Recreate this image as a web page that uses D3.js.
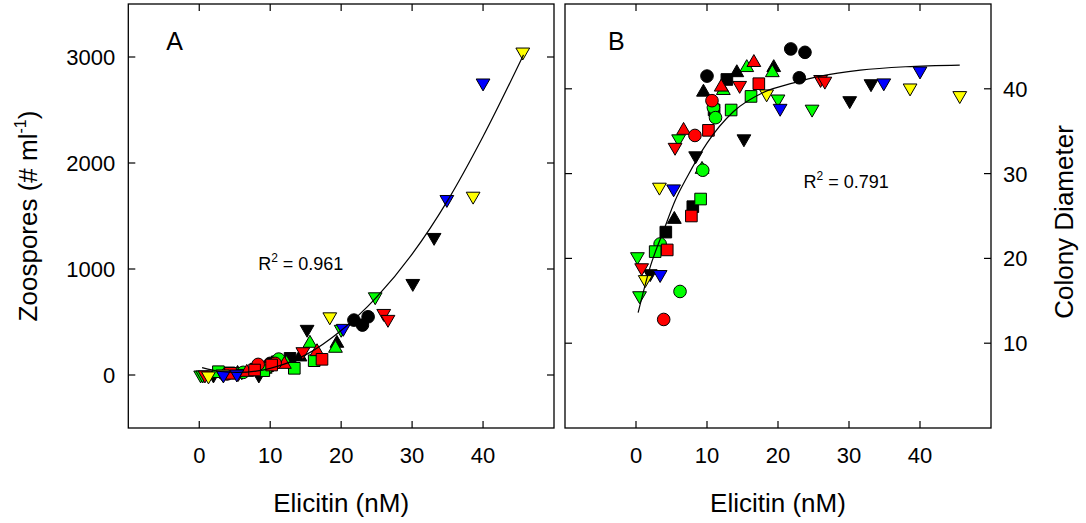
<!DOCTYPE html>
<html>
<head>
<meta charset="utf-8">
<script src="https://cdn.jsdelivr.net/npm/d3@7"></script>
<style>
body { margin: 0; background: #fff; }
text { font-family: "Liberation Sans", Arial, sans-serif; fill: #000; }
</style>
</head>
<body>
<div id="root"></div>
<script>
const w = 1086, h = 523

// data: one entry per culture, shared by both panels
const elicitin = [
  33.1, 30.1, 15.2, 8.4, 2.0,
  19.4, 14.2, 9.5, 5.4,
  21.8, 23.0, 23.8, 10.0,
  12.8, 11.0, 8.0, 4.2,
  24.8, 20.0, 6.0, 0.2, 0.5,
  15.6, 19.2, 12.3, 9.3,
  10.9, 11.2, 9.4, 3.4, 6.2,
  16.2, 13.4, 9.1, 2.7,
  26.0, 26.6, 14.6, 5.5, 0.8,
  16.6, 6.7, 12.0,
  10.7, 8.3, 3.9,
  17.3, 10.2, 7.8, 4.4,
  45.6, 38.6, 18.4, 3.3, 1.3,
  40.0, 34.9, 20.3, 5.3, 3.4
]
const zoospores = [
  1298, 864, 431, 0, 0,
  299, 170, 70, 15,
  518, 471, 549, 110,
  157, 125, 55, 20,
  738, 431, 30, 0, 0,
  299, 252, 110, 55,
  120, 150, 60, 15, 25,
  135, 63, 41, 31,
  581, 525, 220, 15, 0,
  220, 25, 100,
  110, 100, 10,
  148, 94, 47, 16,
  3047, 1687, 549, 10, -9,
  2755, 1656, 440, 9, 0
]
const diameter = [
  40.6, 38.6, 34.1, 32.1, 18.2,
  42.5, 41.9, 39.6, 24.6,
  44.7, 41.3, 44.3, 41.5,
  41.1, 37.5, 26.1, 23.1,
  37.6, 38.8, 34.1, 20.2, 15.6,
  42.5, 41.9, 39.8, 30.5,
  37.8, 36.6, 30.4, 21.7, 16.1,
  39.1, 37.5, 27.0, 20.8,
  41.1, 40.9, 40.4, 33.1, 18.9,
  43.1, 35.1, 40.2,
  38.6, 34.5, 12.8,
  40.6, 35.1, 25.0, 21.0,
  39.2, 40.1, 39.4, 28.4, 17.5,
  42.1, 40.7, 37.7, 28.2, 18.1
]
const shapes = [
  "down", "down", "down", "down", "down",
  "up", "up", "up", "up",
  "circle", "circle", "circle", "circle",
  "square", "square", "square", "square",
  "down", "down", "down", "down", "down",
  "up", "up", "up", "up",
  "circle", "circle", "circle", "circle", "circle",
  "square", "square", "square", "square",
  "down", "down", "down", "down", "down",
  "up", "up", "up",
  "circle", "circle", "circle",
  "square", "square", "square", "square",
  "down", "down", "down", "down", "down",
  "down", "down", "down", "down", "down"
]
const colors = [
  "black", "black", "black", "black", "black",
  "black", "black", "black", "black",
  "black", "black", "black", "black",
  "black", "black", "black", "black",
  "green", "green", "green", "green", "green",
  "green", "green", "green", "green",
  "green", "green", "green", "green", "green",
  "green", "green", "green", "green",
  "red", "red", "red", "red", "red",
  "red", "red", "red",
  "red", "red", "red",
  "red", "red", "red", "red",
  "yellow", "yellow", "yellow", "yellow", "yellow",
  "blue", "blue", "blue", "blue", "blue"
]

// regression curves
const fitA_x = [0.4, 3, 5.4, 8, 10, 15, 20, 25, 30, 35, 40, 45.7]
const fitA_y = [70, 33, 24, 36, 63, 190, 420, 735, 1140, 1645, 2250, 3020]
const fitB_x = [0.3, 2, 3.9, 5.5, 7.2, 10, 13.7, 18, 22.2, 26, 31.6, 38, 45.6]
const fitB_y = [13.6, 19.0, 23.3, 26.8, 29.6, 33.6, 37.3, 39.6, 40.7, 41.5, 42.2, 42.6, 42.8]

const xTicks = [0, 10, 20, 30, 40]
const yTicksA = [0, 1000, 2000, 3000]
const yTicksB = [10, 20, 30, 40]

const fillColor = {black: "#000000", red: "#ff0000", green: "#00ff00", yellow: "#ffff00", blue: "#0000ff"}

const svg = d3.select("#root").append("svg")
    .attr("width", w)
    .attr("height", h)

const plotTop = 4, plotBottom = 428, tickLen = 7

function symbolPath(shape) {
    if (shape == "circle") return d3.symbol(d3.symbolCircle, 125)()
    if (shape == "square") return d3.symbol(d3.symbolSquare, 135)()
    return d3.symbol(d3.symbolTriangle, 82)()
}

function drawPanel(opt) {
    const x = d3.scaleLinear().domain([-10, 50]).range([opt.left, opt.right])
    const y = d3.scaleLinear().domain(opt.ydomain).range([plotBottom, plotTop])
    const g = svg.append("g")

    // frame
    g.append("rect")
        .attr("x", opt.left).attr("y", plotTop)
        .attr("width", opt.right - opt.left).attr("height", plotBottom - plotTop)
        .attr("fill", "none").attr("stroke", "#000").attr("stroke-width", 1.3)

    // ticks, pointing inward on all four sides
    xTicks.forEach(t => {
        g.append("line").attr("x1", x(t)).attr("x2", x(t)).attr("y1", plotBottom).attr("y2", plotBottom - tickLen)
            .attr("stroke", "#000").attr("stroke-width", 1.2)
        g.append("line").attr("x1", x(t)).attr("x2", x(t)).attr("y1", plotTop).attr("y2", plotTop + tickLen)
            .attr("stroke", "#000").attr("stroke-width", 1.2)
        g.append("text").attr("x", x(t)).attr("y", 463)
            .attr("text-anchor", "middle").attr("font-size", 22).text(t)
    })
    opt.yticks.forEach(t => {
        g.append("line").attr("x1", opt.left).attr("x2", opt.left + tickLen).attr("y1", y(t)).attr("y2", y(t))
            .attr("stroke", "#000").attr("stroke-width", 1.2)
        g.append("line").attr("x1", opt.right).attr("x2", opt.right - tickLen).attr("y1", y(t)).attr("y2", y(t))
            .attr("stroke", "#000").attr("stroke-width", 1.2)
        if (opt.labelSide == "left") {
            g.append("text").attr("x", opt.left - 13).attr("y", y(t)).attr("dy", "0.36em")
                .attr("text-anchor", "end").attr("font-size", 22).text(t)
        } else {
            g.append("text").attr("x", opt.right + 12).attr("y", y(t)).attr("dy", "0.36em")
                .attr("text-anchor", "start").attr("font-size", 22).text(t)
        }
    })

    // x title
    g.append("text").attr("x", (opt.left + opt.right) / 2).attr("y", 512)
        .attr("text-anchor", "middle").attr("font-size", 26).text("Elicitin (nM)")

    // panel letter
    g.append("text").attr("x", opt.left + opt.letterDx).attr("y", 50)
        .attr("font-size", 25).text(opt.letter)

    // points
    const values = opt.values
    g.selectAll("path.pt")
        .data(elicitin.map((e, i) => ({x: e, y: values[i], shape: shapes[i], color: colors[i]})))
        .enter().append("path")
        .attr("class", "pt")
        .attr("d", d => symbolPath(d.shape))
        .attr("transform", d => "translate(" + x(d.x) + "," + y(d.y) + ")" + (d.shape == "down" ? " rotate(180)" : ""))
        .attr("fill", d => fillColor[d.color])
        .attr("stroke", "#000")
        .attr("stroke-width", 1)

    // fitted curve
    const line = d3.line().x(d => x(d[0])).y(d => y(d[1])).curve(d3.curveMonotoneX)
    g.append("path")
        .attr("d", line(opt.fitx.map((v, i) => [v, opt.fity[i]])))
        .attr("fill", "none").attr("stroke", "#000").attr("stroke-width", 1.2)

    // R squared
    const r2 = g.append("text").attr("x", x(opt.r2pos[0])).attr("y", y(opt.r2pos[1]))
        .attr("font-size", 18)
    r2.append("tspan").text("R")
    r2.append("tspan").attr("font-size", 12).attr("dy", -8).text("2")
    r2.append("tspan").attr("dy", 8).text(" = " + opt.r2)
}

drawPanel({
    left: 128.3, right: 554, ydomain: [-500, 3500], yticks: yTicksA, labelSide: "left",
    values: zoospores, fitx: fitA_x, fity: fitA_y, letter: "A", letterDx: 38,
    r2: "0.961", r2pos: [8.3, 990]
})
drawPanel({
    left: 565, right: 991, ydomain: [0, 50], yticks: yTicksB, labelSide: "right",
    values: diameter, fitx: fitB_x, fity: fitB_y, letter: "B", letterDx: 43,
    r2: "0.791", r2pos: [23.6, 28.35]
})

// y titles
const yl = svg.append("text")
    .attr("transform", "translate(37,216) rotate(-90)")
    .attr("text-anchor", "middle").attr("font-size", 26)
yl.append("tspan").text("Zoospores (# ml")
yl.append("tspan").attr("font-size", 16).attr("dy", -11).text("-1")
yl.append("tspan").attr("dy", 11).text(")")

svg.append("text")
    .attr("transform", "translate(1073,222) rotate(-90)")
    .attr("text-anchor", "middle").attr("font-size", 26)
    .text("Colony Diameter")
</script>
</body>
</html>
